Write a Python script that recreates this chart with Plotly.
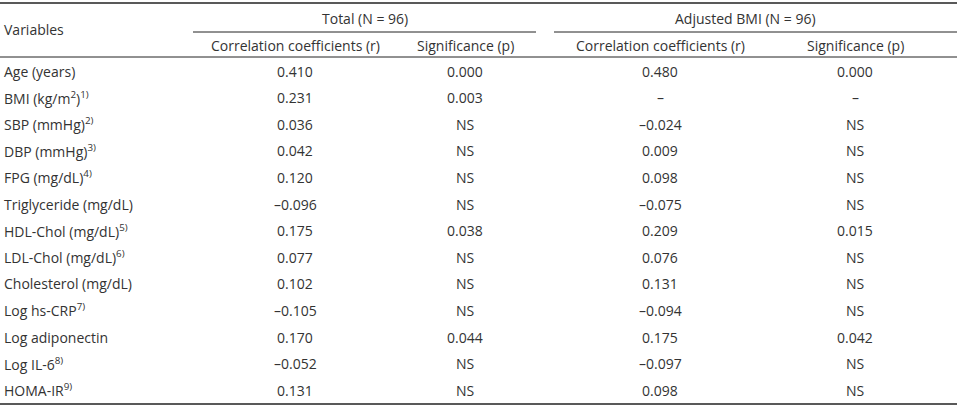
import plotly.graph_objects as go

variables = ["Age (years)", "BMI (kg/m<sup>2</sup>)<sup>1)</sup>", "SBP (mmHg)<sup>2)</sup>", "DBP (mmHg)<sup>3)</sup>",
             "FPG (mg/dL)<sup>4)</sup>", "Triglyceride (mg/dL)", "HDL-Chol (mg/dL)<sup>5)</sup>", "LDL-Chol (mg/dL)<sup>6)</sup>",
             "Cholesterol (mg/dL)", "Log hs-CRP<sup>7)</sup>", "Log adiponectin", "Log IL-6<sup>8)</sup>", "HOMA-IR<sup>9)</sup>"]
total_r = ["0.410", "0.231", "0.036", "0.042", "0.120", "–0.096", "0.175", "0.077", "0.102", "–0.105", "0.170", "–0.052", "0.131"]
total_p = ["0.000", "0.003", "NS", "NS", "NS", "NS", "0.038", "NS", "NS", "NS", "0.044", "NS", "NS"]
adj_r = ["0.480", "–", "–0.024", "0.009", "0.098", "–0.075", "0.209", "0.076", "0.131", "–0.094", "0.175", "–0.097", "0.098"]
adj_p = ["0.000", "–", "NS", "NS", "NS", "NS", "0.015", "NS", "NS", "NS", "0.042", "NS", "NS"]
groups = ["Total (N = 96)", "Adjusted BMI (N = 96)"]
subheads = ["Correlation coefficients (r)", "Significance (p)", "Correlation coefficients (r)", "Significance (p)"]

FONT = dict(family="Open Sans, sans-serif", size=14, color="#333")
fig = go.Figure()
ann = []
shapes = []
col_x = [295, 465, 660, 855]
group_x = [365, 745]

def txt(x, y, s, anchor="center"):
    ann.append(dict(x=x, y=y, xref="x", yref="y", text=s, showarrow=False, xanchor=anchor, yanchor="middle", font=FONT))

def line(x0, x1, y, w=1):
    shapes.append(dict(type="line", xref="x", yref="y", x0=x0, x1=x1, y0=y, y1=y, line=dict(color="#222", width=w)))

txt(2, 29, "Variables", "left")
for g, x in zip(groups, group_x):
    txt(x, 18, g)
for s, x in zip(subheads, col_x):
    txt(x, 45, s)
line(0, 957, 3, 1.5)
line(193, 536, 32)
line(554, 957, 32)
line(0, 957, 57)
row0, dy = 71, 26.6
for i, v in enumerate(variables):
    y = row0 + i * dy
    txt(2, y, v, "left")
    for col, x in zip([total_r, total_p, adj_r, adj_p], col_x):
        txt(x, y, col[i])
line(0, 957, 404, 1.5)

fig.update_layout(width=957, height=420, margin=dict(l=0, r=0, t=0, b=0),
                  paper_bgcolor="white", plot_bgcolor="white",
                  xaxis=dict(range=[0, 957], visible=False, fixedrange=True),
                  yaxis=dict(range=[420, 0], visible=False, fixedrange=True),
                  annotations=ann, shapes=shapes, showlegend=False)
fig.write_html("out.html", post_script="document.body.style.margin='0';",
               config={"displayModeBar": False})
